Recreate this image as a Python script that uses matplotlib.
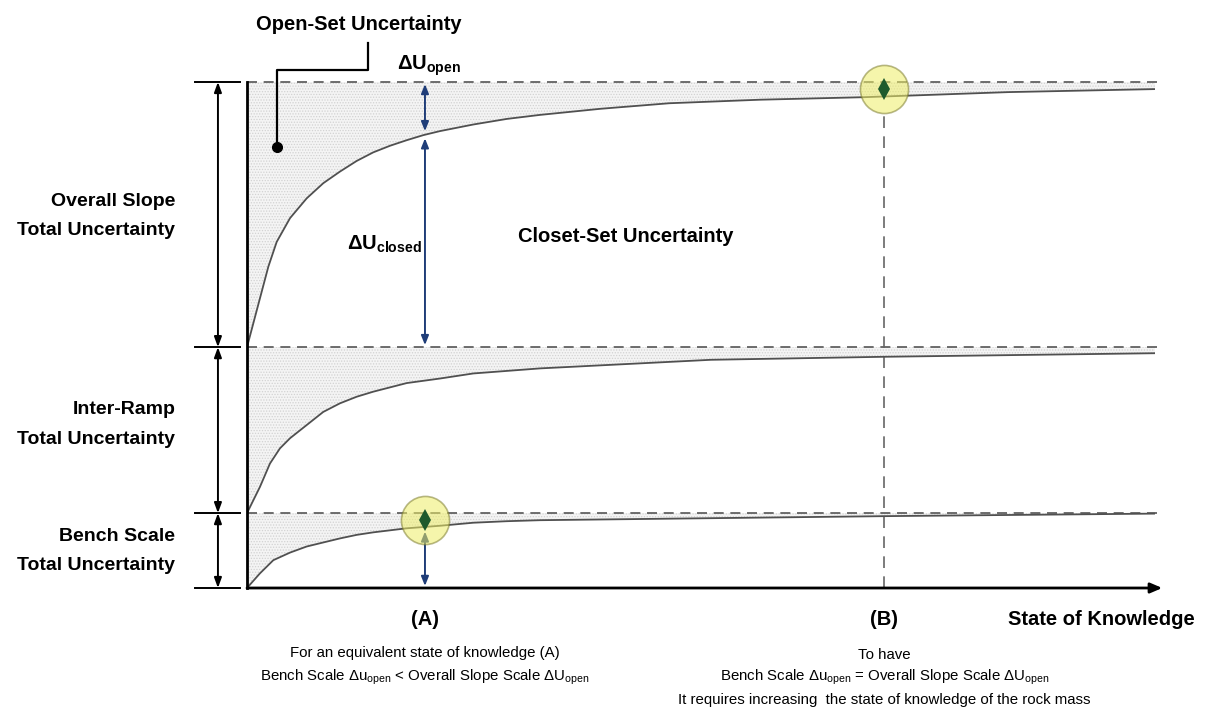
import numpy as np
import matplotlib
matplotlib.use("Agg")
import matplotlib.pyplot as plt
from matplotlib import font_manager

# ---------------- data ----------------
# state of knowledge (0..100) vs. uncertainty (0..100)
overall_x = [0, 2.35, 3.27, 4.74, 6.57, 8.40, 10.24, 12.08, 13.91, 15.75, 17.59,
             19.42, 21.26, 24.92, 28.60, 32.27, 38.9, 46.5, 56.5, 68.0, 83.8, 100]
overall_y = [47.6, 63.5, 68.4, 73.1, 77.0, 80.0, 82.3, 84.4, 86.1, 87.4, 88.5,
             89.5, 90.3, 91.6, 92.7, 93.5, 94.7, 95.8, 96.5, 97.0, 98.0, 98.6]

inter_x = [0, 1.43, 2.53, 3.63, 4.74, 6.57, 8.40, 10.24, 12.08, 13.91, 17.59,
           21.26, 24.92, 28.60, 32.27, 51.1, 70.3, 100]
inter_y = [14.8, 20.0, 24.6, 27.6, 29.6, 32.2, 34.8, 36.5, 37.8, 38.8, 40.5,
           41.4, 42.4, 42.9, 43.4, 45.1, 45.7, 46.4]

bench_x = [0, 1.43, 2.90, 4.74, 6.57, 8.40, 10.24, 12.08, 13.91, 17.59, 21.26,
           24.92, 28.60, 32.27, 70.2, 100]
bench_y = [0, 2.9, 5.5, 7.0, 8.2, 9.0, 9.8, 10.5, 11.0, 11.8, 12.3,
           12.9, 13.2, 13.4, 14.2, 14.7]

total_levels = [100.0, 47.6, 14.8]   # overall, inter-ramp, bench total uncertainty
scale_labels = ["Overall Slope\nTotal Uncertainty",
                "Inter-Ramp\nTotal Uncertainty",
                "Bench Scale\nTotal Uncertainty"]
knowledge_A = 19.6
knowledge_B = 70.2

# ---------------- fonts ----------------
names = {f.name for f in font_manager.fontManager.ttflist}
BOLD = "Liberation Sans"
if "Liberation Sans Narrow" in names:
    NOTE_FAMILY, NOTE_SIZE = "Liberation Sans Narrow", 12.5
else:
    NOTE_FAMILY, NOTE_SIZE = "Liberation Sans", 10.8
plt.rcParams["font.family"] = [BOLD, "DejaVu Sans"]
plt.rcParams["hatch.linewidth"] = 0.6

navy = "#1f3d78"
green = "#1e5a2c"
grey = "#505050"

fig = plt.figure(figsize=(12.08, 7.07), dpi=100)
ax = fig.add_axes([247 / 1208, (707 - 588) / 707, 908 / 1208, 506 / 707])
ax.set_xlim(0, 100)
ax.set_ylim(0, 100)
ax.axis("off")

# ---------------- shaded open-set regions ----------------
for cx, cy, top in [(overall_x, overall_y, total_levels[0]),
                    (inter_x, inter_y, total_levels[1]),
                    (bench_x, bench_y, total_levels[2])]:
    ax.fill_between(cx, cy, top, facecolor="#f4f4f4", edgecolor="#d2d2d2",
                    hatch="......", linewidth=0, zorder=1)
    ax.plot(cx, cy, color=grey, lw=1.3, zorder=3, solid_joinstyle="round")
    ax.plot([0, 100.5], [top, top], color="#555555", lw=1.2,
            dashes=(6, 4), zorder=2, clip_on=False)

# ---------------- axes lines ----------------
ax.plot([0, 0], [0, 100], color="black", lw=2, zorder=4, clip_on=False)
ax.annotate("", xy=(100.8, 0), xytext=(0, 0),
            arrowprops=dict(arrowstyle="-|>,head_length=0.7,head_width=0.3",
                            color="black", lw=2, shrinkA=0, shrinkB=0),
            zorder=4, annotation_clip=False)

# ---------------- left brackets ----------------
levels_all = total_levels + [0.0]
for lv in levels_all:
    ax.plot([-5.7, -0.8], [lv, lv], color="black", lw=1.4, clip_on=False)
for hi, lo in zip(levels_all[:-1], levels_all[1:]):
    ax.annotate("", xy=(-3.2, lo), xytext=(-3.2, hi),
                arrowprops=dict(arrowstyle="<|-|>,head_length=0.6,head_width=0.22",
                                color="black", lw=1.4, shrinkA=0, shrinkB=0),
                annotation_clip=False)
label_y = [(76.3, 70.7), (35.2, 29.4), (10.1, 4.5)]
for lab, (y1, y2) in zip(scale_labels, label_y):
    l1, l2 = lab.split("\n")
    ax.text(-7.9, y1, l1, ha="right", va="center", fontsize=14, fontweight="bold")
    ax.text(-7.9, y2, l2, ha="right", va="center", fontsize=14, fontweight="bold")

# ---------------- arrows at (A) ----------------
ovA = np.interp(knowledge_A, overall_x, overall_y)
beA = np.interp(knowledge_A, bench_x, bench_y)
ovB = np.interp(knowledge_B, overall_x, overall_y)

ap = dict(arrowstyle="<|-|>,head_length=0.55,head_width=0.22", color=navy,
          lw=1.4, shrinkA=0, shrinkB=0)
ax.annotate("", xy=(knowledge_A, ovA + 0.7), xytext=(knowledge_A, total_levels[0] - 0.4),
            arrowprops=ap, zorder=5)
ax.annotate("", xy=(knowledge_A, total_levels[1] + 0.4), xytext=(knowledge_A, ovA - 0.7),
            arrowprops=ap, zorder=5)
ax.annotate("", xy=(knowledge_A, 0.4), xytext=(knowledge_A, beA - 0.9),
            arrowprops=ap, zorder=5)

# vertical dashed line at (B)
circ_r = 4.7  # data units (~24 px)
cB = (total_levels[0] + ovB) / 2
cA = (total_levels[2] + beA) / 2
ax.plot([knowledge_B, knowledge_B], [0, cB - circ_r], color="#666666", lw=1.2,
        dashes=(7, 5), zorder=2)

# highlight circles
ax.scatter([knowledge_A, knowledge_B], [cA, cB], s=1200, facecolor="#eeee66",
           edgecolor="#7d7d30", linewidth=1.2, alpha=0.55, zorder=6, clip_on=False)

# small open-set markers (double-headed diamonds) inside the circles
ax.plot([knowledge_A, knowledge_B], [cA, cB], marker="d", linestyle="none",
        color=green, markersize=11, markeredgewidth=0, zorder=7, clip_on=False)

# ---------------- annotations ----------------
ax.text(12.3, 111.3, "Open-Set Uncertainty", ha="center", va="center",
        fontsize=14.5, fontweight="bold", clip_on=False)
ax.plot([13.3, 13.3, 3.3, 3.3], [107.7, 102.4, 102.4, 87.2], color="black",
        lw=1.6, clip_on=False, zorder=5)
ax.plot([3.3], [87.2], "o", color="black", ms=7, zorder=5)

ax.text(16.5, 102.4, r"ΔU$_{\mathregular{open}}$", ha="left", va="baseline",
        fontsize=14.5, fontweight="bold", clip_on=False)
ax.text(11.0, 66.8, r"ΔU$_{\mathregular{closed}}$", ha="left", va="baseline",
        fontsize=14.5, fontweight="bold")
ax.text(41.7, 69.4, "Closet-Set Uncertainty", ha="center", va="center",
        fontsize=14.5, fontweight="bold")

ax.text(knowledge_A, -6.3, "(A)", ha="center", va="center", fontsize=14.5,
        fontweight="bold", clip_on=False)
ax.text(knowledge_B, -6.3, "(B)", ha="center", va="center", fontsize=14.5,
        fontweight="bold", clip_on=False)
ax.text(83.8, -6.3, "State of Knowledge", ha="left", va="center", fontsize=14.5,
        fontweight="bold", clip_on=False)

nkw = dict(ha="center", va="center", fontsize=NOTE_SIZE, family=[NOTE_FAMILY, "DejaVu Sans"],
           clip_on=False)
ax.text(knowledge_A, -12.8, "For an equivalent state of knowledge (A)", **nkw)
ax.text(knowledge_A, -17.6,
        r"Bench Scale Δu$_{\mathregular{open}}$ < Overall Slope Scale ΔU$_{\mathregular{open}}$", **nkw)
ax.text(knowledge_B, -13.2, "To have", **nkw)
ax.text(knowledge_B, -17.6,
        r"Bench Scale Δu$_{\mathregular{open}}$ = Overall Slope Scale ΔU$_{\mathregular{open}}$", **nkw)
ax.text(knowledge_B, -22.1,
        "It requires increasing  the state of knowledge of the rock mass", **nkw)

fig.savefig("out.png", dpi=100)
